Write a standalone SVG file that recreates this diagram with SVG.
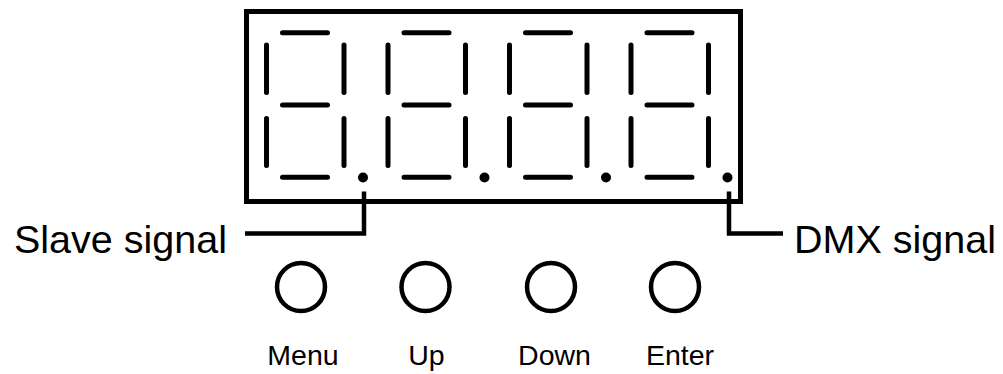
<svg xmlns="http://www.w3.org/2000/svg" xmlns:xlink="http://www.w3.org/1999/xlink" width="1003" height="374" viewBox="0 0 1003 374">
<style>
.seg{stroke:#000;stroke-width:5;stroke-linecap:round;fill:none}
.frame{fill:none;stroke:#000;stroke-width:5}
.conn{fill:none;stroke:#000;stroke-width:4.5}
.btn{fill:none;stroke:#000;stroke-width:4.5}
.lbl{font-family:"Liberation Sans",Arial,Helvetica,sans-serif;fill:#000}
.big{font-size:39.5px}
.small{font-size:28.5px;text-anchor:middle}
</style>
<defs>
<g id="digit">
<path class="seg" d="M16 32.7H61 M16 105H61 M16 177.3H61 M0 45V92.5 M77.5 45V92.5 M0 118.5V165.5 M77.5 118.5V165.5"/>
<circle cx="96.5" cy="177.5" r="5" fill="#000"/>
</g>
</defs>
<g id="display">
<rect class="frame" x="246.5" y="11.5" width="494" height="190"/>
<use xlink:href="#digit" href="#digit" x="266.5" y="0"/>
<use xlink:href="#digit" href="#digit" x="388" y="0"/>
<use xlink:href="#digit" href="#digit" x="509.5" y="0"/>
<use xlink:href="#digit" href="#digit" x="631" y="0"/>
</g>
<g id="connectors">
<path class="conn" d="M245 233.5H364V191.5"/>
<path class="conn" d="M729 191.5V233.5H783"/>
</g>
<g id="slave-label"><text class="lbl big" x="14" y="253">Slave signal</text></g>
<g id="dmx-label"><text class="lbl big" x="794" y="253">DMX signal</text></g>
<g id="btn-menu"><circle class="btn" cx="301" cy="287" r="24"/><text class="lbl small" x="303" y="365">Menu</text></g>
<g id="btn-up"><circle class="btn" cx="425.5" cy="287" r="24"/><text class="lbl small" x="426.5" y="365">Up</text></g>
<g id="btn-down"><circle class="btn" cx="551" cy="287" r="24"/><text class="lbl small" x="554.5" y="365">Down</text></g>
<g id="btn-enter"><circle class="btn" cx="675" cy="287" r="24"/><text class="lbl small" x="680" y="365">Enter</text></g>
</svg>
